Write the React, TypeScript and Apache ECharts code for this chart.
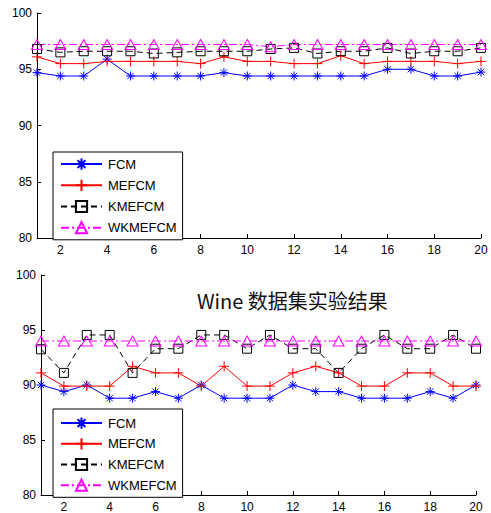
import React, { useEffect, useRef } from "react";
import * as echarts from "echarts";

const runs = [1, 2, 3, 4, 5, 6, 7, 8, 9, 10, 11, 12, 13, 14, 15, 16, 17, 18, 19, 20];
const xTicks = [2, 4, 6, 8, 10, 12, 14, 16, 18, 20];
const seriesNames = ["FCM", "MEFCM", "KMEFCM", "WKMEFCM"];

// top plot
const topFCM = [94.7, 94.4, 94.4, 95.9, 94.4, 94.4, 94.4, 94.4, 94.7, 94.4, 94.4, 94.4, 94.4, 94.4, 94.4, 95.0, 95.0, 94.4, 94.4, 94.75];
const topMEFCM = [96.1, 95.5, 95.5, 95.7, 95.7, 95.7, 95.7, 95.5, 96.1, 95.7, 95.7, 95.5, 95.5, 96.2, 95.5, 95.7, 95.7, 95.7, 95.5, 95.7];
const topKMEFCM = [96.8, 96.5, 96.6, 96.6, 96.6, 96.4, 96.5, 96.6, 96.6, 96.6, 96.8, 96.9, 96.4, 96.6, 96.6, 96.9, 96.4, 96.6, 96.6, 96.9];
const topWKMEFCM = [97.2, 97.2, 97.2, 97.2, 97.2, 97.2, 97.2, 97.2, 97.2, 97.2, 97.0, 97.2, 97.2, 97.2, 97.2, 97.2, 97.2, 97.2, 97.2, 97.2];

// bottom plot (Wine)
const winFCM = [90.0, 89.4, 90.0, 88.8, 88.8, 89.4, 88.8, 90.0, 88.8, 88.8, 88.8, 90.0, 89.4, 89.4, 88.8, 88.8, 88.8, 89.4, 88.8, 90.0];
const winMEFCM = [91.1, 89.9, 89.9, 89.9, 91.7, 91.1, 91.1, 89.9, 91.7, 89.9, 89.9, 91.1, 91.7, 91.1, 89.9, 89.9, 91.1, 91.1, 89.9, 89.9];
const winKMEFCM = [93.25, 91.1, 94.55, 94.55, 91.1, 93.3, 93.3, 94.55, 94.55, 93.3, 94.55, 93.3, 93.3, 91.1, 93.3, 94.55, 93.3, 93.3, 94.55, 93.3];
const winWKMEFCM = [94.0, 94.0, 94.0, 94.0, 94.0, 94.0, 94.0, 94.0, 94.0, 94.0, 94.0, 94.0, 94.0, 94.0, 94.0, 94.0, 94.0, 94.0, 94.0, 94.0];

const titleText = "Wine 数据集实验结果";

const SYM_AST = "path://M0,-6L0,6M-6,0L6,0M-4.2,-4.2L4.2,4.2M-4.2,4.2L4.2,-4.2";
const SYM_PLUS = "path://M0,-5L0,5M-5,0L5,0";
const SYM_SQ = "path://M-5,-5L5,-5L5,5L-5,5Z";
const SYM_TRI = "path://M0,-5L5.5,4.5L-5.5,4.5Z";

const styles = [
  { color: "#0000ff", symbol: SYM_AST, size: [9, 9], type: "solid" as any },
  { color: "#ff0000", symbol: SYM_PLUS, size: [10, 10], type: "solid" as any },
  { color: "#000000", symbol: SYM_SQ, size: [9, 9], type: [6, 4] as any },
  { color: "#ff00ff", symbol: SYM_TRI, size: [11, 10], type: [8, 3, 2, 3] as any },
];

const FONT = "Liberation Sans";

function makeSeries(values: number[][], axisIdx: number) {
  return values.map((vals, i) => ({
    name: seriesNames[i],
    type: "line",
    xAxisIndex: axisIdx,
    yAxisIndex: axisIdx,
    data: runs.map((r, k) => [r, vals[k]]),
    symbol: styles[i].symbol,
    symbolSize: styles[i].size,
    showAllSymbol: true,
    lineStyle: { color: styles[i].color, width: 1, type: styles[i].type },
    itemStyle: { color: "none", borderColor: styles[i].color, borderWidth: 1 },
    emphasis: { disabled: true },
  }));
}

function xAxis(gridIndex: number) {
  return {
    type: "value",
    gridIndex,
    min: 1,
    max: 20,
    axisLine: { lineStyle: { color: "#000", width: 1 } },
    axisTick: { inside: true, length: 4, customValues: xTicks, lineStyle: { color: "#000" } },
    axisLabel: { customValues: xTicks, color: "#000", fontSize: 12, fontFamily: FONT, margin: 6 },
    splitLine: { show: false },
  };
}

function yAxis(gridIndex: number) {
  return {
    type: "value",
    gridIndex,
    min: 80,
    max: 100,
    interval: 5,
    axisLine: { show: true, lineStyle: { color: "#000", width: 1 } },
    axisTick: { show: true, inside: true, length: 4, lineStyle: { color: "#000" } },
    axisLabel: { color: "#000", fontSize: 12, fontFamily: FONT, margin: 5 },
    splitLine: { show: false },
  };
}

function legend(top: number, gap: number, padTop: number) {
  return {
    orient: "vertical",
    left: 53,
    top,
    padding: [padTop, 6, 4, 7],
    itemGap: gap,
    itemWidth: 41,
    itemHeight: 14,
    borderColor: "#000",
    borderWidth: 1,
    backgroundColor: "#fff",
    data: seriesNames,
    textStyle: { fontSize: 13, fontFamily: FONT, color: "#000", lineHeight: 14, padding: [0, 0, 0, 1] },
    selectedMode: false,
  };
}

export default function App() {
  const ref = useRef<HTMLDivElement>(null);
  useEffect(() => {
    if (!ref.current) return;
    const chart = echarts.init(ref.current, null, { renderer: "svg" });
    chart.setOption({
      animation: false,
      backgroundColor: "#fff",
      grid: [
        { left: 37, right: 10, top: 13, height: 225, containLabel: false },
        { left: 41, right: 15, top: 275, height: 220, containLabel: false },
      ],
      xAxis: [xAxis(0), xAxis(1)],
      yAxis: [yAxis(0), yAxis(1)],
      legend: [legend(152, 5, 4), legend(409, 4.5, 6)],
      graphic: [
        {
          type: "text",
          left: 197,
          top: 290,
          style: { text: titleText, fontSize: 20, fontFamily: "Noto Sans CJK SC", fill: "#111" },
          z: 10,
        },
      ],
      series: [
        ...makeSeries([topFCM, topMEFCM, topKMEFCM, topWKMEFCM], 0),
        ...makeSeries([winFCM, winMEFCM, winKMEFCM, winWKMEFCM], 1),
      ],
    });
    return () => chart.dispose();
  }, []);
  return (
    <div
      ref={ref}
      style={{ position: "fixed", left: 0, top: 0, width: 491, height: 513, background: "#fff" }}
    />
  );
}
